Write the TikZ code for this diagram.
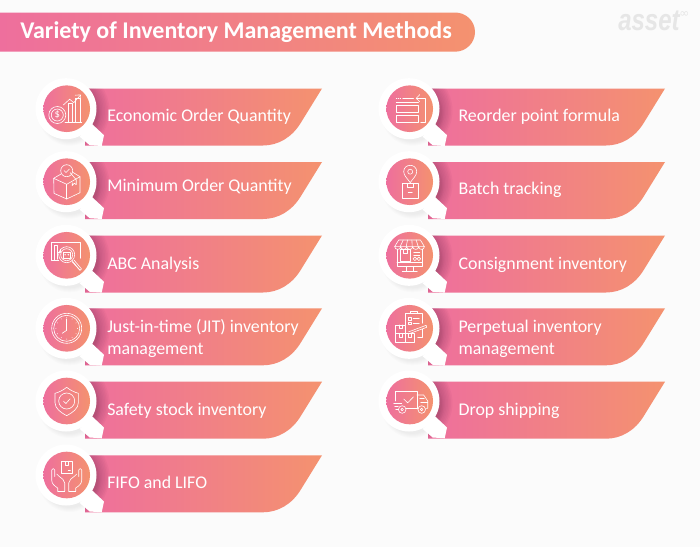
\documentclass[tikz,border=0pt]{standalone}
\usepackage{fontspec}
\setmainfont{Carlito}
\newfontfamily\logofont{Liberation Sans}
\newfontfamily\symfont{DejaVu Sans}
\definecolor{pgbg}{HTML}{FBFBFB}
\definecolor{pinkL}{HTML}{EE6F9D}
\definecolor{orangeR}{HTML}{F4926F}
\definecolor{logogrey}{HTML}{E6E6E6}
\definecolor{shadowdark}{HTML}{7E2F58}
\tikzset{
  x=0.75pt,y=-0.75pt,
  gradfill/.style={left color=pinkL,right color=orangeR,draw=none},
  iconcirc/.style={circle,inner sep=0pt,minimum size=35pt,left color=pinkL,right color=orangeR,draw=none},
  labeltext/.style={anchor=base west,align=left,text=white,inner sep=0pt,font=\fontsize{13.4}{16.5}\selectfont},
  ic/.style={draw=white,line width=0.45pt,line join=round,line cap=round},
  icf/.style={fill=white,draw=none}
}
\newcommand{\bannerpath}{(85,0) -- (322,0) -- (301,34) .. controls (292,49) and (278,57) .. (263,57) -- (85,57) -- cycle}
% #1 id, #2 x offset, #3 banner top, #4 circle y, #5 text x, #6 baseline, #7 label, #8 icon
\newcommand{\RowItem}[8]{%
  \begin{scope}[shift={(#2,#3)}]
    \shade[gradfill] \bannerpath;
    \begin{scope}
      \clip \bannerpath;
      \foreach \rr in {31,32.5,...,41.5}{\fill[shadowdark,opacity=.05] (68,#4-#3+2) circle[radius=\rr];}
    \end{scope}
  \end{scope}
  \begin{scope}[shift={(#2+66.7,#4)}]
    \foreach \rr in {27,28,...,31}{\fill[black,opacity=.012] (3,6) circle[radius=\rr];}
    \fill[white] (-0.7,0) circle[radius=30.5];
    \fill[white] (25,15) -- (37.3,26.5) -- (35,37.3) -- (23,36.5) -- (13,28) -- cycle;
    \node[iconcirc] (c#1) at (0,0) {};
    #8
  \end{scope}
  \node[labeltext] (t#1) at (#5,#6) {#7};
}
% icons, drawn about the circle centre
\newcommand{\icEOQ}{%
  \draw[ic] (-9.4,6.3) circle[radius=8.5];
  \draw[ic] (-9.4,6.3) circle[radius=6];
  \node[text=white,inner sep=0pt,font=\fontsize{8}{8}\selectfont] (dollar) at (-9.4,6.3) {\$};
  \draw[ic] (-1.7,13.6) -- (15,13.6);
  \draw[ic] (1.6,13.6) -- (1.6,-5.4) -- (6,-5.4) -- (6,13.6);
  \draw[ic] (8.3,13.6) -- (8.3,-10) -- (13.3,-10) -- (13.3,13.6);
  \draw[ic] (-3.4,-3.7) -- (3,-9.5) -- (7,-6) -- (13.3,-13);
  \draw[ic] (8.5,-13.5) -- (13.8,-13.8) -- (13.5,-8.5);
}
\newcommand{\icMOQ}{%
  \draw[ic] (0,-11) circle[radius=6];
  \draw[ic] (-2.5,-11) -- (-0.7,-9.2) -- (2.7,-12.7);
  \draw[ic] (-13,-3.4) -- (0,2.6) -- (13.3,-5) -- (13.3,11) -- (0,17.3) -- (-12.7,11.6) -- cycle;
  \draw[ic] (0,2.6) -- (0,17.3);
  \draw[ic] (-13,-3.4) -- (-6,-7.5);
  \draw[ic] (6,-9.5) -- (13.3,-5);
  \draw[ic] (3.5,-9) -- (9.5,-2) -- (9.5,3) -- (7.5,1.5) -- (5.5,4) -- (5.5,1);
}
\newcommand{\icABC}{%
  \draw[ic] (-8,5) -- (-15.7,5) -- (-15.7,-13.3) -- (13.3,-13.3) -- (13.3,3);
  \draw[ic] (-12.5,5) -- (-12.5,-10) -- (-9.5,-10) -- (-9.5,4);
  \draw[ic] (-9.5,-3) -- (-6.5,-3) -- (-6.5,-6);
  \draw[ic] (0,-0.6) circle[radius=8];
  \draw[ic] (0,-0.6) circle[radius=6];
  \draw[ic] (-3.7,-3) -- (3.7,-3) -- (3.7,2.5) -- (-3.7,2.5) -- cycle;
  \fill[icf] (-1.6,-0.6) circle[radius=.8] (1.6,-0.6) circle[radius=.8];
  \draw[ic] (5.5,5.5) -- (13.3,15);
  \draw[ic] (7.5,5) -- (14.8,13.6) -- (13.3,15) -- (5.5,6.5);
}
\newcommand{\icClock}{%
  \draw[ic] (0,0) circle[radius=15];
  \draw[ic] (0,0) circle[radius=13];
  \draw[ic] (0,2) -- (0,-9.5);
  \draw[ic] (0,2) -- (-4.5,5);
  \foreach \a in {0,30,...,330}{\fill[white] ({10.8*cos(\a)},{10.8*sin(\a)}) circle[radius=.45];}
}
\newcommand{\icShield}{%
  \draw[ic] (0,-13.7) .. controls (-4,-10.5) and (-8,-8.7) .. (-11.7,-7.7) -- (-11.7,1.5) .. controls (-11.7,7.5) and (-6,11.5) .. (0,14.7) .. controls (6,11.5) and (11.7,7.5) .. (11.7,1.5) -- (11.7,-7.7) .. controls (8,-8.7) and (4,-10.5) .. (0,-13.7) -- cycle;
  \draw[ic] (0,0) circle[radius=8];
  \draw[ic] (-3.2,0.2) -- (-0.8,2.5) -- (3.4,-2.2);
}
\newcommand{\icHands}{%
  \draw[ic] (-5.7,-1.5) -- (-5.7,-13.5) -- (5.7,-13.5) -- (5.7,-1.5) -- cycle;
  \draw[ic] (-1.8,-13.5) -- (-1.8,-9.5) -- (1.8,-9.5) -- (1.8,-13.5);
  \draw[ic] (1.5,-4.5) -- (3.7,-4.5);
  \foreach \sx in {1,-1}{
    \begin{scope}[xscale=\sx]
      \draw[ic] (-2,16) -- (-2,8) .. controls (-2,5) and (-5,3.5) .. (-8,1) -- (-10,-1);
      \draw[ic] (-9,16) -- (-9,13) .. controls (-12,11) and (-15,9) .. (-15,5) -- (-15,-5) .. controls (-15,-7) and (-12,-7) .. (-12,-5) -- (-12,1.5);
      \draw[ic] (-9,16) -- (-2,16);
    \end{scope}
  }
}
\newcommand{\icReorder}{%
  \draw[ic,densely dotted] (-13.5,-10.4) -- (-8,-10.4);
  \draw[ic] (-7,-10.4) -- (3.8,-10.4);
  \draw[ic] (-13.5,-3.7) rectangle (8.8,4);
  \draw[ic] (-13.5,6.3) rectangle (8.8,14);
  \draw[ic] (-13.5,-6.5) -- (8.8,-6.5);
  \draw[ic] (11,13.6) -- (15.5,13.6) -- (15.5,-10.4) -- (7,-10.4);
  \draw[ic] (10,-14) -- (6.5,-10.4) -- (10,-7);
}
\newcommand{\icBatch}{%
  \draw[ic] (0.5,1) .. controls (-2,-3) and (-6,-6) .. (-6,-10) .. controls (-6,-18.5) and (7,-18.5) .. (7,-10) .. controls (7,-6) and (3,-3) .. (0.5,1) -- cycle;
  \draw[ic] (0.5,-10) circle[radius=2.5];
  \draw[ic] (-7.8,1.6) rectangle (8.8,16.6);
  \draw[ic] (-2.5,1.6) -- (-2.5,6) -- (3.5,6) -- (3.5,1.6);
  \draw[ic] (-1.5,11) -- (2.5,11);
}
\newcommand{\icConsign}{%
  \draw[ic] (-11,-15.3) -- (10.7,-15.3) -- (14.7,-8.7) -- (-15,-8.7) -- cycle;
  \foreach \xx/\yy in {-6.5/-9.5,-2.2/-3.5,2.2/2.5,6.5/8.5}{\draw[ic] (\xx,-15.3) -- (\yy,-8.7);}
  \draw[ic] (-15,-8.7) .. controls (-15,-5) and (-9,-5) .. (-9,-8.7) .. controls (-9,-5) and (-3,-5) .. (-3,-8.7) .. controls (-3,-5) and (3,-5) .. (3,-8.7) .. controls (3,-5) and (9,-5) .. (9,-8.7) .. controls (9,-5) and (14.7,-5) .. (14.7,-8.7);
  \draw[ic] (-12.7,-6) -- (-12.7,11.3) -- (12.3,11.3) -- (12.3,-6);
  \draw[ic] (-12.7,7) -- (12.3,7);
  \draw[ic] (-9.5,-6) rectangle (1,6);
  \draw[ic] (-6,-6) -- (-6,-2) -- (-2.5,-2) -- (-2.5,-6);
  \draw[ic] (4,-3) -- (10,-3) (4,-0.5) -- (10,-0.5);
  \draw[ic] (5.2,3.5) circle[radius=1.8] (9.2,3.5) circle[radius=1.8];
  \draw[ic] (-3.5,11.3) -- (-3.5,15.5) (3.5,11.3) -- (3.5,15.5);
  \draw[ic] (-7.5,16) -- (7.5,16);
}
\newcommand{\icPerpet}{%
  \draw[ic] (-4.3,-3) -- (-4.3,-15) -- (12.3,-15) -- (12.3,-5);
  \draw[ic] (0.5,-15) -- (0.5,-17.5) -- (7.3,-17.5) -- (7.3,-15);
  \draw[ic] (-1,-11) rectangle (1.5,-8.5) (-1,-6.5) rectangle (1.5,-4);
  \draw[ic] (3.5,-10) -- (9.5,-10) (3.5,-5.5) -- (9.5,-5.5);
  \draw[ic] (-14.3,-3.3) rectangle (-4.3,5);
  \draw[ic] (-14.3,5) rectangle (-4.3,14);
  \draw[ic] (-4.3,5) rectangle (4.7,14);
  \draw[ic] (-10.5,-3.3) -- (-10.5,0) -- (-7.5,0) -- (-7.5,-3.3);
  \draw[ic] (-10.5,5) -- (-10.5,8.5) -- (-7.5,8.5) -- (-7.5,5);
  \draw[ic] (-1.5,5) -- (-1.5,8.5) -- (1.5,8.5) -- (1.5,5);
  \draw[ic] (-1,3.5) -- (16.5,-3) -- (17,-1) -- (0.5,5);
  \draw[ic] (12.3,1) -- (12.3,9) -- (8,9);
}
\newcommand{\icTruck}{%
  \draw[ic] (-14.3,0) -- (-14.3,-9.3) -- (7.3,-9.3) -- (7.3,7.3) -- (-3.5,7.3);
  \draw[ic] (7.3,-6) -- (14,-6) -- (18,0) -- (18,7.3) -- (16,7.3);
  \draw[ic] (8,7.3) -- (7.3,7.3);
  \draw[ic] (10,-3) -- (14.5,-3) (11,1) -- (18,1);
  \draw[ic] (-7.5,8.5) circle[radius=3.8] (-7.5,8.5) circle[radius=1.3];
  \draw[ic] (12,8.5) circle[radius=3.8] (12,8.5) circle[radius=1.3];
  \draw[ic] (-16,2.5) -- (-8,2.5) (-15,5.5) -- (-11.5,5.5) (-14,8.5) -- (-11.8,8.5);
  \draw[ic] (-6,-2) -- (-2,1.8) -- (3.8,-4.2);
}
\begin{document}
\begin{tikzpicture}
\useasboundingbox (0,0) rectangle (700,547);
\fill[pgbg] (0,0) rectangle (700,547);
% title
\shade[gradfill] (0,12.5) -- (455,12.5) .. controls (466,12.5) and (475,21) .. (475,32) .. controls (475,43) and (466,51.7) .. (455,51.7) -- (0,51.7) -- cycle;
\node[anchor=base west,inner sep=0pt,text=white,font=\bfseries\fontsize{18}{20}\selectfont] (title) at (20,38.5) {Variety of Inventory Management Methods};
% logo
\node[anchor=base west,inner sep=0pt,text=logogrey,font=\logofont\bfseries\itshape\fontsize{18}{18}\selectfont] (logo) at (618,30) {\scalebox{1}[1.25]{asset}};
\node[anchor=base west,inner sep=0pt,text=logogrey,font=\symfont\fontsize{9}{9}\selectfont] (logoinf) at (679,17) {∞};
% rows, left
\RowItem{a}{0}{88.5}{108.7}{107}{121}{Economic Order Quantity}{\icEOQ}
\RowItem{b}{0}{162}{181.7}{107}{191}{Minimum Order Quantity}{\icMOQ}
\RowItem{c}{0}{235.5}{255.3}{107}{269.3}{ABC Analysis}{\icABC}
\RowItem{d}{0}{308.3}{328.3}{107}{354.3}{Just-in-time (JIT) inventory\\management}{\icClock}
\RowItem{e}{0}{381.7}{401}{107}{415.3}{Safety stock inventory}{\icShield}
\RowItem{f}{0}{455.3}{475}{107}{488}{FIFO and LIFO}{\icHands}
% rows, right
\RowItem{g}{343}{88.5}{108.7}{458.3}{121}{Reorder point formula}{\icReorder}
\RowItem{h}{343}{162}{181.7}{458.3}{194.3}{Batch tracking}{\icBatch}
\RowItem{i}{343}{235.5}{255.3}{458.3}{269.3}{Consignment inventory}{\icConsign}
\RowItem{j}{343}{308.3}{328.3}{458.3}{354.3}{Perpetual inventory\\management}{\icPerpet}
\RowItem{k}{343}{381.7}{401}{458.3}{415.3}{Drop shipping}{\icTruck}
\end{tikzpicture}
\end{document}
